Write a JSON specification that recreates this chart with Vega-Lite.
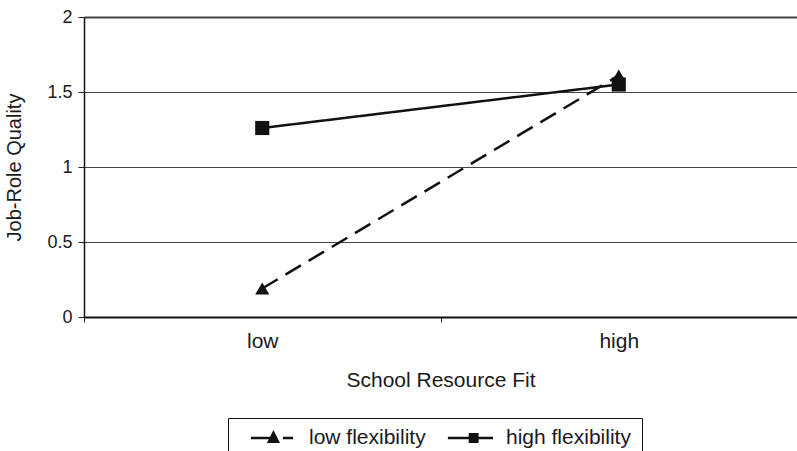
{
  "$schema": "https://vega.github.io/schema/vega-lite/v6.json",
  "width": 713,
  "height": 300,
  "autosize": {"type": "none"},
  "padding": {"left": 84, "top": 17, "right": 0, "bottom": 134},
  "background": "white",
  "config": {
    "view": {"stroke": null},
    "font": "Liberation Sans",
    "axis": {"labelFont": "Liberation Sans", "titleFont": "Liberation Sans", "labelColor": "#1a1a1a", "titleColor": "#1a1a1a", "titleFontWeight": "normal"},
    "legend": {"labelFont": "Liberation Sans"}
  },
  "data": {
    "values": [
      {"fit": "low", "series": "low flexibility", "q": 0.19},
      {"fit": "high", "series": "low flexibility", "q": 1.61},
      {"fit": "low", "series": "high flexibility", "q": 1.26},
      {"fit": "high", "series": "high flexibility", "q": 1.55}
    ]
  },
  "encoding": {
    "x": {
      "field": "fit",
      "type": "nominal",
      "sort": ["low", "high"],
      "scale": {"paddingInner": 0, "paddingOuter": 0},
      "axis": {
        "title": "School Resource Fit",
        "labelAngle": 0,
        "tickBand": "extent",
        "tickSize": 5,
        "tickColor": "#222",
        "domainColor": "#111",
        "domainWidth": 2,
        "labelFontSize": 21,
        "labelPadding": 8,
        "titleFontSize": 21,
        "titlePadding": 18,
        "grid": false
      }
    },
    "y": {
      "field": "q",
      "type": "quantitative",
      "scale": {"domain": [0, 2]},
      "axis": {
        "title": "Job-Role Quality",
        "values": [0, 0.5, 1, 1.5, 2],
        "format": "~g",
        "grid": true,
        "gridColor": "#444",
        "gridWidth": {"condition": {"test": "datum.value === 2", "value": 2}, "value": 1},
        "tickSize": 6,
        "tickColor": "#222",
        "domainColor": "#111",
        "domainWidth": 1.5,
        "labelFontSize": 18,
        "labelPadding": 6,
        "titleFontSize": 20,
        "titlePadding": 22
      }
    }
  },
  "layer": [
    {
      "mark": {"type": "line", "color": "#111", "strokeWidth": 2.5},
      "encoding": {
        "strokeDash": {
          "field": "series",
          "type": "nominal",
          "scale": {"domain": ["low flexibility", "high flexibility"], "range": [[18, 9], [1, 0]]},
          "legend": null
        }
      }
    },
    {
      "mark": {"type": "point", "filled": true, "color": "#111", "opacity": 1, "size": 200},
      "encoding": {
        "shape": {
          "field": "series",
          "type": "nominal",
          "scale": {"domain": ["low flexibility", "high flexibility"], "range": ["triangle-up", "square"]},
          "legend": null
        }
      }
    },
    {
      "transform": [{"filter": "datum.q < 0"}],
      "mark": {"type": "point", "filled": true, "color": "#111", "opacity": 1},
      "encoding": {
        "shape": {
          "field": "series",
          "type": "nominal",
          "scale": {
            "domain": ["low flexibility", "high flexibility"],
            "range": [
              "M-0.66,-0.04L0.02,-0.04L0.02,0.04L-0.66,0.04ZM0.045,-0.25L0.25,0.16L-0.16,0.16ZM0.34,-0.04L0.66,-0.04L0.66,0.04L0.34,0.04Z",
              "M-0.66,-0.04L0.75,-0.04L0.75,0.04L-0.66,0.04ZM-0.01,-0.16L0.3,-0.16L0.3,0.16L-0.01,0.16Z"
            ]
          },
          "legend": {
            "title": null,
            "orient": "none",
            "legendX": 144,
            "legendY": 401,
            "direction": "horizontal",
            "strokeColor": "#111",
            "padding": 11,
            "clipHeight": 18,
            "symbolSize": 4096,
            "symbolFillColor": "#111",
            "symbolOpacity": 1,
            "labelOffset": 4,
            "columnPadding": 10,
            "labelFontSize": 21,
            "labelColor": "#1a1a1a"
          }
        }
      }
    }
  ],
  "resolve": {"scale": {"shape": "independent"}}
}
